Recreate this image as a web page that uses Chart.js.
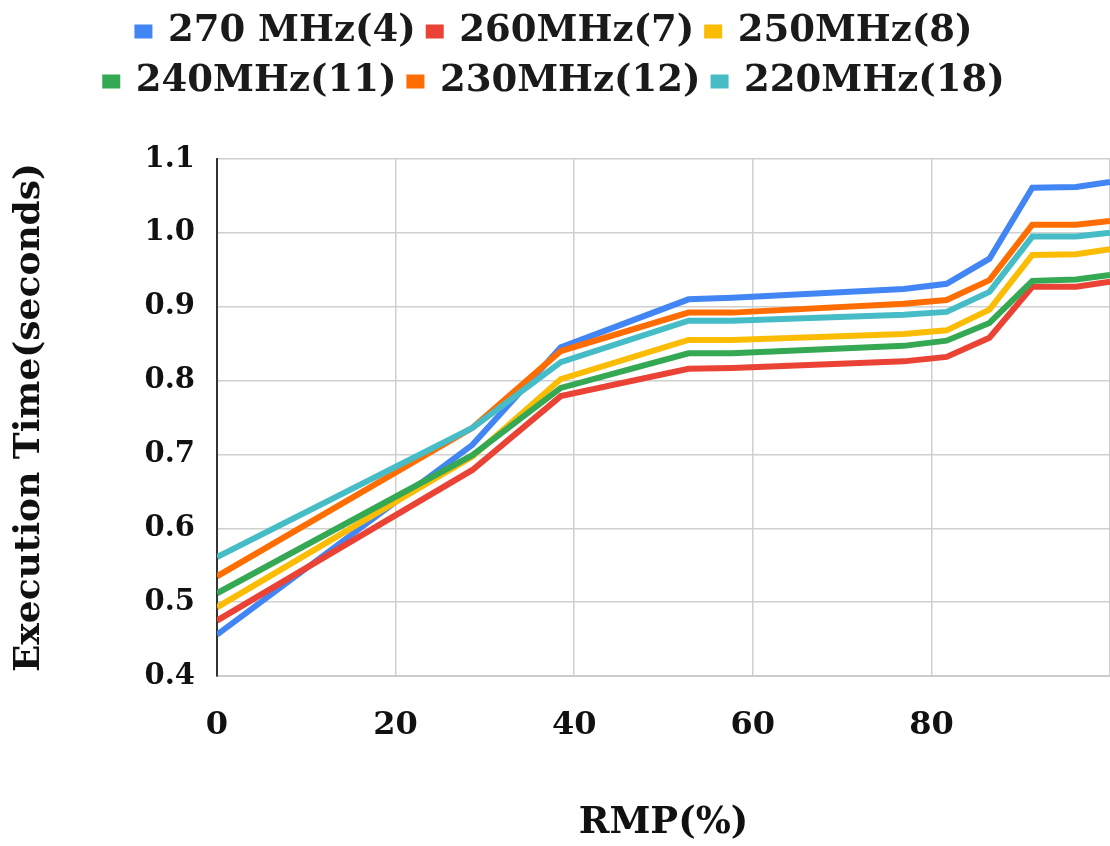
<!DOCTYPE html>
<html>
<head>
<meta charset="utf-8">
<script src="https://cdn.jsdelivr.net/npm/chart.js@4/dist/chart.umd.min.js"></script>
<style>
  html, body { margin: 0; padding: 0; background: #fff; }
  #wrap { width: 1110px; height: 846px; }
</style>
</head>
<body>
<div id="wrap"><canvas id="myChart"></canvas></div>
<script>
// x values (RMP %) where each series has a point
const rmp = [0, 28.6, 38.5, 52.8, 57.7, 76.9, 81.7, 86.5, 91.3, 96.2, 100];

// execution time per clock setting (seconds)
const mhz270 = [0.456, 0.713, 0.845, 0.910, 0.912, 0.924, 0.931, 0.965, 1.061, 1.062, 1.069];
const mhz260 = [0.475, 0.679, 0.779, 0.816, 0.817, 0.826, 0.832, 0.858, 0.927, 0.927, 0.934];
const mhz250 = [0.493, 0.697, 0.802, 0.855, 0.855, 0.863, 0.868, 0.896, 0.970, 0.971, 0.978];
const mhz240 = [0.512, 0.699, 0.790, 0.837, 0.837, 0.847, 0.854, 0.878, 0.935, 0.937, 0.943];
const mhz230 = [0.535, 0.736, 0.840, 0.892, 0.892, 0.904, 0.909, 0.936, 1.011, 1.011, 1.016];
const mhz220 = [0.561, 0.736, 0.825, 0.881, 0.881, 0.889, 0.893, 0.920, 0.995, 0.995, 1.000];

const seriesNames = ['270 MHz(4)', '260MHz(7)', '250MHz(8)', '240MHz(11)', '230MHz(12)', '220MHz(18)'];
const seriesData = [mhz270, mhz260, mhz250, mhz240, mhz230, mhz220];
const seriesColors = ['#4285F4', '#EA4335', '#FBBC04', '#34A853', '#FF6D01', '#46BDC6'];

const FONT = '"DejaVu Serif", serif';

//build datasets as {x,y} pairs
var makeDatasets = function() {
  return seriesData.map(function(vals, i) {
    return {
      label: seriesNames[i],
      data: vals.map(function(v, j) { return { x: rmp[j], y: v }; }),
      borderColor: seriesColors[i],
      backgroundColor: seriesColors[i],
      borderWidth: 6,
      pointRadius: 0,
      tension: 0,
      order: seriesData.length - i   // last series drawn on top
    };
  });
};

var ctx = document.getElementById('myChart');
var chart = new Chart(ctx, {
  type: 'line',
  data: { datasets: makeDatasets() },
  options: {
    responsive: true,
    maintainAspectRatio: false,
    animation: false,
    layout: { autoPadding: false, padding: 0 },
    plugins: {
      tooltip: { enabled: false },
      legend: {
        position: 'top',
        labels: {
          color: '#1a1a1a',
          font: { family: FONT, size: 37, weight: 'bold' },
          boxWidth: 12,
          boxHeight: 8,
          padding: 13,
          sort: function(a, b) { return a.datasetIndex - b.datasetIndex; }
        }
      },
      // empty spacer between legend and plot
      title: {
        display: true,
        text: '',
        position: 'top',
        weight: 500,
        font: { size: 10 },
        padding: { top: 37, bottom: 0 }
      }
    },
    scales: {
      x: {
        type: 'linear',
        min: 0,
        max: 100,
        border: { color: '#cccccc', width: 2 },
        grid: { color: '#d0d0d0', lineWidth: 1.5, drawTicks: false },
        ticks: {
          stepSize: 20,
          color: '#111',
          padding: 30,
          font: { family: FONT, size: 32, weight: 'bold' },
          callback: function(v) { return v >= 100 ? '' : v; }
        },
        title: {
          display: true,
          text: 'RMP(%)',
          color: '#111',
          padding: { top: 46, bottom: 0 },
          font: { family: FONT, size: 37, weight: 'bold' }
        },
        afterFit: function(scale) {
          scale.height = 170;
          scale.paddingRight = 0;   // plot runs to the right edge
        }
      },
      y: {
        min: 0.4,
        max: 1.1,
        border: { color: '#333333', width: 2 },
        grid: { color: '#d0d0d0', lineWidth: 1.5, drawTicks: false },
        ticks: {
          stepSize: 0.1,
          color: '#111',
          padding: 22,
          font: { family: FONT, size: 29, weight: 'bold' },
          callback: function(v) { return Number(v).toFixed(1); }
        },
        title: {
          display: true,
          text: 'Execution Time(seconds)',
          color: '#111',
          padding: { top: 8, bottom: 10 },
          font: { family: FONT, size: 36, weight: 'bold' }
        },
        afterFit: function(scale) { scale.width = 217; }
      }
    }
  }
});
</script>
</body>
</html>
